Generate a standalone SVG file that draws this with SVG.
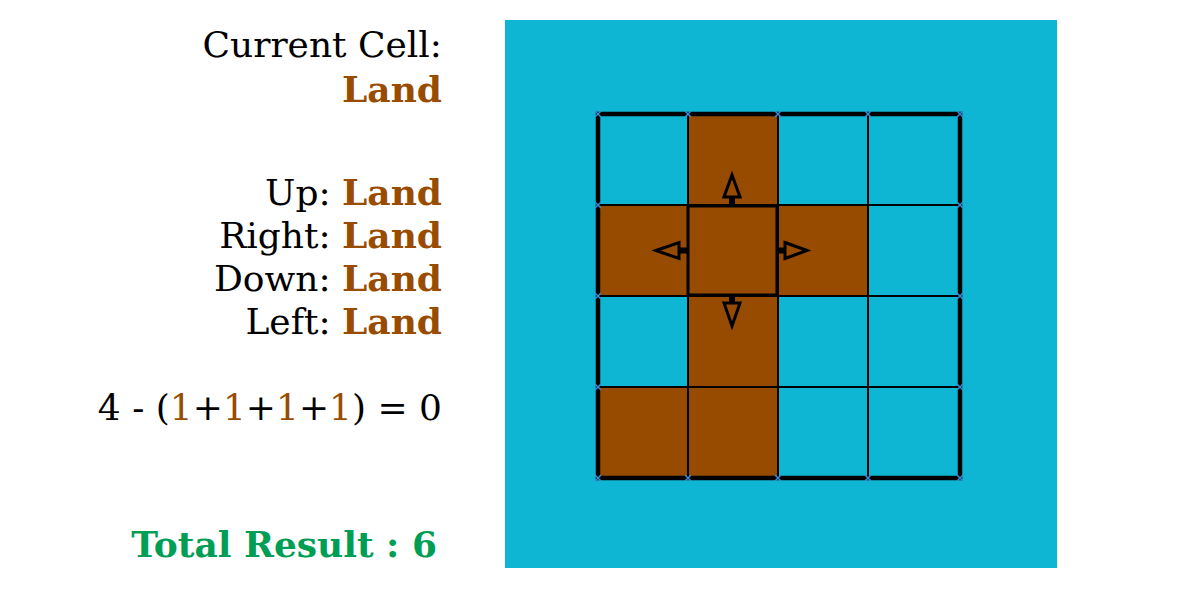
<svg xmlns="http://www.w3.org/2000/svg" width="1201" height="600" viewBox="0 0 1201 600">
<style>
.t{font-family:"DejaVu Serif","Liberation Serif",serif;font-size:36px;fill:#000;text-anchor:end}
.b{font-weight:bold;fill:#994c00}
.o{fill:#994c00}
.g{font-weight:bold;fill:#009e55}
.water{fill:#0eb6d3}
.land{fill:#964b00}
.thin{stroke:#000;stroke-width:2;fill:none}
.thick{stroke:#000;stroke-width:4.5;fill:none}
.arr{fill:none;stroke:#000;stroke-width:3;stroke-linejoin:miter}
.x{stroke:#3a8ad6;stroke-width:1.5}
</style>
<rect x="0" y="0" width="1201" height="600" fill="#fff"/>
<g id="labels">
<text class="t" x="442" y="57">Current Cell:</text>
<text class="t b" x="442" y="102">Land</text>
<text class="t" x="442" y="205">Up: <tspan class="b">Land</tspan></text>
<text class="t" x="442" y="248">Right: <tspan class="b">Land</tspan></text>
<text class="t" x="442" y="291">Down: <tspan class="b">Land</tspan></text>
<text class="t" x="442" y="334">Left: <tspan class="b">Land</tspan></text>
<text class="t" x="442" y="420">4 - (<tspan class="o">1</tspan>+<tspan class="o">1</tspan>+<tspan class="o">1</tspan>+<tspan class="o">1</tspan>) = 0</text>
<text class="t g" x="437" y="557">Total Result : 6</text>
</g>
<g id="map">
<rect class="water" x="505" y="20" width="552" height="548"/>
<rect class="land" x="688" y="114" width="90" height="91"/>
<rect class="land" x="598" y="205" width="270" height="91"/>
<rect class="land" x="688" y="296" width="90" height="91"/>
<rect class="land" x="598" y="387" width="180" height="91"/>
<g id="grid-lines">
<path class="thin" d="M688 114V478M778 114V478M868 114V478M598 205H960M598 296H960M598 387H960"/>
<rect class="thick" x="598" y="114" width="362" height="364"/>
</g>
<g id="vertex-marks">
<path class="x" d="M595 111l6 6m0-6l-6 6M685 111l6 6m0-6l-6 6M775 111l6 6m0-6l-6 6M865 111l6 6m0-6l-6 6M957 111l6 6m0-6l-6 6M595 202l6 6m0-6l-6 6M595 293l6 6m0-6l-6 6M595 384l6 6m0-6l-6 6M595 475l6 6m0-6l-6 6M685 475l6 6m0-6l-6 6M775 475l6 6m0-6l-6 6M865 475l6 6m0-6l-6 6M957 475l6 6m0-6l-6 6M957 202l6 6m0-6l-6 6M957 293l6 6m0-6l-6 6M957 384l6 6m0-6l-6 6"/>
</g>
</g>
<g id="current-cell">
<rect x="688" y="206" width="89" height="89" fill="none" stroke="#000" stroke-width="3"/>
</g>
<g id="connectors">
<rect x="729" y="197" width="6" height="9" fill="#000"/>
<path class="arr" d="M732 175L740 197H724Z"/>
<rect x="777" y="247.5" width="7" height="6" fill="#000"/>
<path class="arr" d="M807 250.5L785 242.5V258.5Z"/>
<rect x="680" y="247.5" width="8" height="6" fill="#000"/>
<path class="arr" d="M656 250.5L679 242.5V258.5Z"/>
<rect x="729" y="295" width="6" height="8" fill="#000"/>
<path class="arr" d="M732 326L740 303H724Z"/>
</g>
</svg>
